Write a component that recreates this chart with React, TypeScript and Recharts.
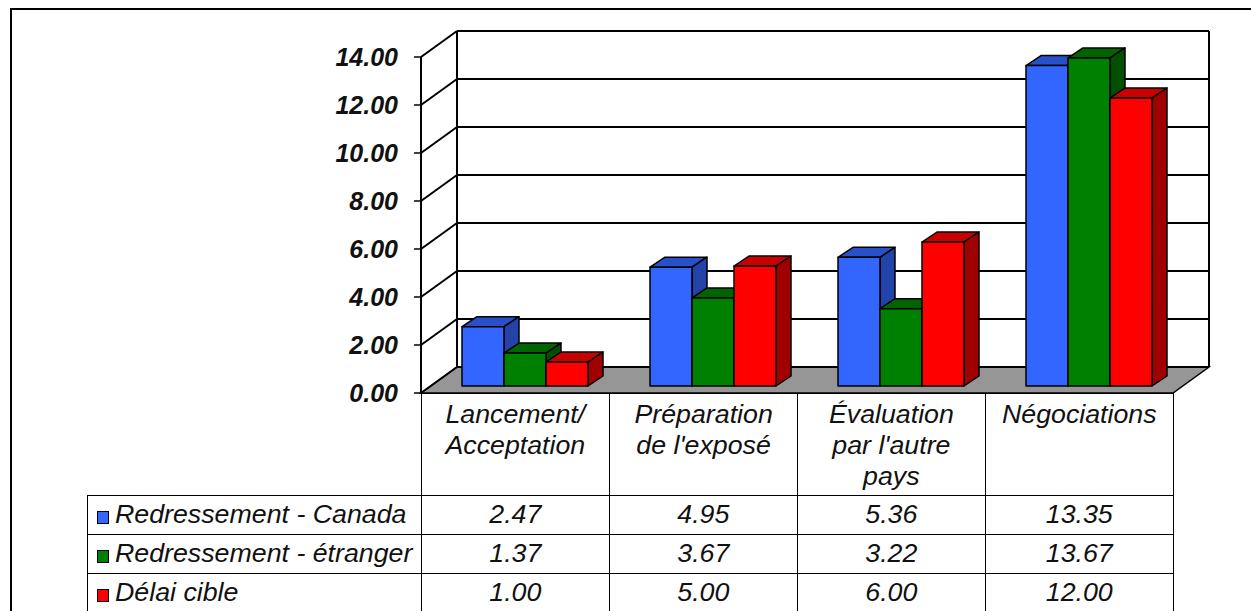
import React from 'react'
import { Bar, BarChart, CartesianGrid, XAxis, YAxis } from 'recharts'

const CATEGORIES = ['Lancement/\nAcceptation', "Préparation\nde l'exposé", "Évaluation\npar l'autre\npays", 'Négociations']
const SERIES_NAMES = ['Redressement - Canada', 'Redressement - étranger', 'Délai cible']
const CANADA = [2.47, 4.95, 5.36, 13.35]
const ETRANGER = [1.37, 3.67, 3.22, 13.67]
const CIBLE = [1.0, 5.0, 6.0, 12.0]
const Y_TICKS = [0, 2, 4, 6, 8, 10, 12, 14]

const SERIES = [CANADA, ETRANGER, CIBLE]
// front / top / side faces
const FACES = [
  ['#3366FF', '#2850C8', '#2244A8'],
  ['#008000', '#006400', '#005000'],
  ['#FF0000', '#C80000', '#A00000'],
]

const W = 1251
const H = 611
const PLOT_LEFT = 421
const PLOT_RIGHT = 1173
const PLOT_TOP = 57
const PLOT_BOTTOM = 393
// depth of the 3D box, and where the bars stand within it
const DX = 36
const DY = -26
const BAR_OX = 10
const BAR_OY = -7
const BAR_DX = 15
const BAR_DY = -10

const FONT = "'Liberation Sans', Arial, sans-serif"
const STRETCH = 1.07

const data = CATEGORIES.map((name, i) => ({
  name,
  s0: CANADA[i],
  s1: ETRANGER[i],
  s2: CIBLE[i],
}))

function bar3d(faces: string[]) {
  return (p: any) => {
    const x = p.x + BAR_OX
    const y = p.y + BAR_OY
    const w = p.width
    const h = p.height
    if (!w || h == null) return <g />
    return (
      <g stroke="#000" strokeWidth={1.5} strokeLinejoin="round">
        <polygon
          points={`${x},${y} ${x + BAR_DX},${y + BAR_DY} ${x + w + BAR_DX},${y + BAR_DY} ${x + w},${y}`}
          fill={faces[1]}
        />
        <polygon
          points={`${x + w},${y} ${x + w + BAR_DX},${y + BAR_DY} ${x + w + BAR_DX},${y + h + BAR_DY} ${x + w},${y + h}`}
          fill={faces[2]}
        />
        <rect x={x} y={y} width={w} height={h} fill={faces[0]} />
      </g>
    )
  }
}

function GridLine(p: any) {
  const { x1, y1, x2 } = p
  const isBottom = Math.abs(y1 - PLOT_BOTTOM) < 1
  const isTop = Math.abs(y1 - PLOT_TOP) < 1
  return (
    <g stroke="#000" strokeWidth={2} fill="none">
      {isBottom && (
        <polygon
          points={`${x1},${y1} ${x1 + DX},${y1 + DY} ${x2 + DX},${y1 + DY} ${x2},${y1}`}
          fill="#969696"
          strokeWidth={1.5}
        />
      )}
      {isTop && (
        <>
          <line x1={x1 + DX} y1={y1 + DY} x2={x1 + DX} y2={PLOT_BOTTOM + DY} />
          <line x1={x2 + DX} y1={y1 + DY} x2={x2 + DX} y2={PLOT_BOTTOM + DY} />
        </>
      )}
      <line x1={x1} y1={y1} x2={x1 + DX} y2={y1 + DY} />
      <line x1={x1 + DX} y1={y1 + DY} x2={x2 + DX} y2={y1 + DY} />
    </g>
  )
}

function YTick(p: any) {
  return (
    <text
      x={p.x}
      y={p.y}
      dy={9}
      textAnchor="end"
      fontFamily={FONT}
      fontSize={25}
      fontWeight="bold"
      fontStyle="italic"
      fill="#111"
    >
      {Number(p.payload.value).toFixed(2)}
    </text>
  )
}

const cellText: React.CSSProperties = {
  fontFamily: FONT,
  fontStyle: 'italic',
  fontSize: 25,
  color: '#111',
}

function Wide({ children, origin = 'center' }: { children: React.ReactNode; origin?: string }) {
  return (
    <span style={{ display: 'inline-block', transform: `scaleX(${STRETCH})`, transformOrigin: origin }}>
      {children}
    </span>
  )
}

function DataTable() {
  const colW = (PLOT_RIGHT - PLOT_LEFT) / CATEGORIES.length
  const cols = CATEGORIES.map((_, i) => PLOT_LEFT + i * colW)
  const headTop = PLOT_BOTTOM
  const rowTop = 495
  const rowH = 39
  const tableLeft = 87
  const cells: React.ReactNode[] = []
  CATEGORIES.forEach((c, i) => {
    cells.push(
      <div
        key={'h' + i}
        style={{
          ...cellText,
          position: 'absolute',
          left: cols[i],
          top: headTop,
          width: colW + 1,
          height: rowTop - headTop + 1,
          boxSizing: 'border-box',
          border: '1px solid #000',
          textAlign: 'center',
          whiteSpace: 'pre-line',
          lineHeight: '31px',
          paddingTop: 5,
        }}
      >
        <Wide>{c}</Wide>
      </div>,
    )
  })
  SERIES.forEach((vals, r) => {
    const top = rowTop + r * rowH
    cells.push(
      <div
        key={'l' + r}
        style={{
          ...cellText,
          position: 'absolute',
          left: tableLeft,
          top,
          width: PLOT_LEFT - tableLeft + 1,
          height: rowH + 1,
          boxSizing: 'border-box',
          border: '1px solid #000',
          lineHeight: rowH - 3 + 'px',
          whiteSpace: 'nowrap',
          paddingLeft: 9,
        }}
      >
        <span
          style={{
            display: 'inline-block',
            width: 10,
            height: 11,
            background: FACES[r][0],
            border: '1.5px solid #000',
            marginRight: 6,
            verticalAlign: -1,
          }}
        />
        <Wide origin="left">{SERIES_NAMES[r]}</Wide>
      </div>,
    )
    vals.forEach((v, i) => {
      cells.push(
        <div
          key={'c' + r + '-' + i}
          style={{
            ...cellText,
            position: 'absolute',
            left: cols[i],
            top,
            width: colW + 1,
            height: rowH + 1,
            boxSizing: 'border-box',
            border: '1px solid #000',
            textAlign: 'center',
            lineHeight: rowH - 3 + 'px',
          }}
        >
          <Wide>{v.toFixed(2)}</Wide>
        </div>,
      )
    })
  })
  return <>{cells}</>
}

export default function App() {
  return (
    <div style={{ position: 'absolute', left: 0, top: 0, width: W, height: H, background: '#fff', overflow: 'hidden' }}>
      <div
        style={{
          position: 'absolute',
          left: 10,
          top: 8,
          width: W,
          height: H,
          borderTop: '2px solid #000',
          borderLeft: '2px solid #000',
        }}
      />
      <div style={{ position: 'absolute', left: 0, top: 0 }}>
        <BarChart
          width={W}
          height={H}
          data={data}
          margin={{ left: PLOT_LEFT - 60, right: W - PLOT_RIGHT, top: PLOT_TOP, bottom: H - PLOT_BOTTOM }}
          barSize={42}
          barGap={0}
        >
          <CartesianGrid vertical={false} horizontal={(p: any) => <GridLine key={p.key} {...p} />} />
          <XAxis dataKey="name" hide />
          <YAxis
            width={60}
            domain={[0, 14]}
            ticks={Y_TICKS}
            interval={0}
            axisLine={{ stroke: '#000', strokeWidth: 2 }}
            tickLine={{ stroke: '#000', strokeWidth: 1.5 }}
            tickSize={7}
            tickMargin={16}
            tick={<YTick />}
          />
          {SERIES.map((_, i) => (
            <Bar key={i} dataKey={'s' + i} isAnimationActive={false} shape={bar3d(FACES[i])} />
          ))}
        </BarChart>
      </div>
      <DataTable />
    </div>
  )
}
